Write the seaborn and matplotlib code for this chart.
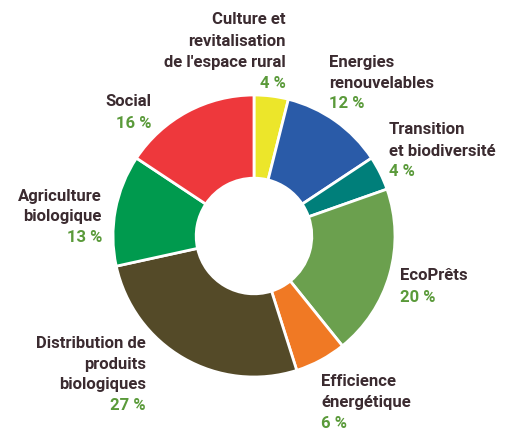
import matplotlib.pyplot as plt
import seaborn as sns

sns.set_style("white")
plt.rcParams['font.family'] = ['Roboto', 'DejaVu Sans']

# données (sens horaire depuis le haut)
categories = ["Culture et\nrevitalisation\nde l'espace rural", "Energies\nrenouvelables",
              "Transition\net biodiversité", "EcoPrêts", "Efficience\nénergétique",
              "Distribution de\nproduits\nbiologiques", "Agriculture\nbiologique", "Social"]
shares = [4, 12, 4, 20, 6, 27, 13, 16]
colors = ["#ECE62A", "#2A5BA8", "#007F7A", "#6BA04E", "#F07924", "#544A28", "#009A4E", "#EE383C"]

# centre de la première ligne de chaque étiquette (pixels, origine en haut à gauche)
label_pos = [(286, 20, 'right'), (329, 62, 'left'), (389, 130, 'left'), (400, 276, 'left'),
             (321, 381, 'left'), (146, 343, 'right'), (102, 196, 'right'), (151, 102, 'right')]
pitch = 21

W, H = 508, 432
fig = plt.figure(figsize=(W / 100, H / 100), dpi=100)
ax = fig.add_axes([0, 0, 1, 1])

cx, cy, r = 254, H - 236, 141
ax.pie(shares, colors=colors, startangle=90, counterclock=False, center=(cx, cy), radius=r,
       wedgeprops=dict(width=r * 0.59, edgecolor='white', linewidth=2))

dark = "#3B2B30"
pct_col = "#5A9A3A"
for name, val, (x, y, ha) in zip(categories, shares, label_pos):
    lines = name.split('\n')
    for i, line in enumerate(lines):
        ax.text(x, H - y - i * pitch, line, ha=ha, va='center', fontsize=12,
                fontweight='bold', color=dark)
    ax.text(x, H - y - len(lines) * pitch, f"{val} %", ha=ha, va='center', fontsize=12,
            fontweight='bold', color=pct_col)

ax.set_xlim(0, W)
ax.set_ylim(0, H)
ax.set_aspect('equal')
ax.axis('off')

fig.savefig("out.png", dpi=100)
